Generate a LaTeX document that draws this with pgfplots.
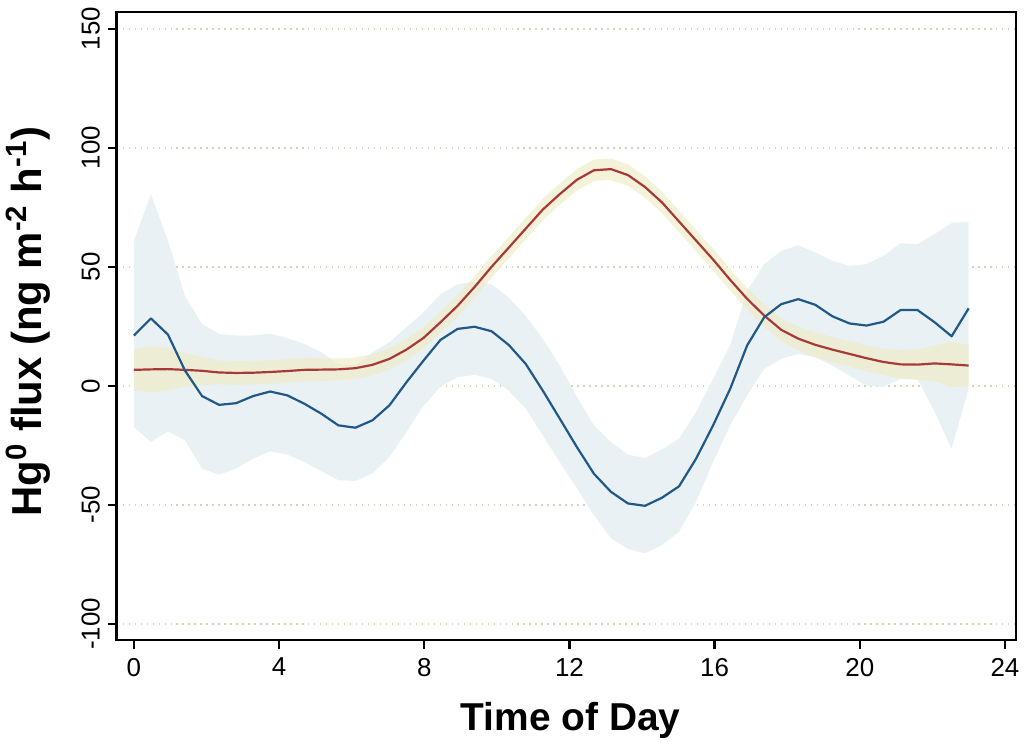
\documentclass[border=0pt]{standalone}
\usepackage{fontspec}
\setmainfont{Liberation Sans}
\usepackage{pgfplots}
\pgfplotsset{compat=1.18}
\usepackage{pgfplotstable}
\usepgfplotslibrary{fillbetween}
\definecolor{bandblue}{RGB}{233,241,245}
\definecolor{bandyel}{RGB}{240,236,200}
\definecolor{lineblue}{RGB}{32,88,135}
\definecolor{linered}{RGB}{168,56,58}
\definecolor{gridc}{RGB}{212,212,188}

\pgfplotstableread{
x       bl     blo    bhi   rl    ylo   yhi
0.0000  21.1  -17.3   60.9  6.7  -1.8  15.2
0.4694  28.3  -23.6   80.4  6.9  -2.9  16.7
0.9388  21.5  -19.1   60.9  7.0  -2.0  16.0
1.4082   6.4  -22.9   37.8  6.7  -0.3  13.7
1.8776  -4.3  -34.8   26.0  6.3   0.3  12.3
2.3469  -8.0  -37.3   21.8  5.6   0.6  10.6
2.8163  -7.3  -34.8   21.1  5.4   0.4  10.4
3.2857  -4.3  -30.6   21.1  5.5   0.5  10.5
3.7551  -2.4  -27.5   22.0  5.8   0.8  10.8
4.2245  -4.0  -28.9   20.0  6.2   1.2  11.2
4.6939  -7.5  -32.0   17.6  6.7   1.7  11.7
5.1633 -11.7  -35.9   14.1  6.8   2.0  11.6
5.6327 -16.6  -39.6    9.2  6.9   2.3  11.5
6.1020 -17.6  -40.0    8.5  7.4   2.9  11.9
6.5714 -14.5  -36.8   14.0  8.8   4.3  13.3
7.0408  -8.2  -29.9   18.3 11.3   6.8  15.8
7.5102   1.5  -19.4   24.6 15.2  10.7  19.7
7.9796  10.6   -8.5   30.9 20.1  15.6  24.6
8.4490  19.3   -0.3   38.5 26.7  22.2  31.2
8.9184  23.9    3.6   42.7 33.6  29.1  38.1
9.3878  24.8    4.6   43.7 41.5  37.0  46.0
9.8571  22.9    2.9   42.7 50.0  45.5  54.5
10.3265 17.2   -2.0   37.1 58.0  53.5  62.5
10.7959  9.2   -9.6   29.4 66.0  61.5  70.5
11.2653 -2.0  -20.8   19.7 74.0  69.5  78.5
11.7347 -13.8 -32.0    8.5 80.5  76.0  85.0
12.2041 -25.7 -43.0   -4.5 86.5  82.0  91.0
12.6735 -36.9 -54.3  -16.6 90.5  86.0  95.0
13.1429 -44.5 -64.0  -23.6 91.0  86.5  95.5
13.6122 -49.4 -68.5  -28.9 88.5  84.0  93.0
14.0816 -50.4 -70.4  -30.3 83.5  79.0  88.0
14.5510 -47.0 -66.9  -26.7 77.0  72.5  81.5
15.0204 -42.2 -61.3  -22.2 69.0  64.5  73.5
15.4898 -30.6 -48.7  -11.0 61.0  56.5  65.5
15.9592 -16.6 -32.0    2.9 53.0  48.5  57.5
16.4286  -1.3 -16.6   17.0 44.5  40.0  49.0
16.8980  17.0  -4.0   40.0 36.5  32.0  41.0
17.3673  28.8   7.1   51.1 29.5  24.8  34.2
17.8367  34.3  11.3   56.7 23.5  18.7  28.3
18.3061  36.4  13.4   59.0 19.8  14.8  24.8
18.7755  34.0  12.0   56.0 17.2  12.0  22.4
19.2449  29.2   8.5   52.5 15.2   9.9  20.5
19.7143  26.2   4.3   50.4 13.4   8.0  18.8
20.1837  25.3   0.1   51.1 11.6   6.1  17.1
20.6531  26.9  -0.5   54.6 10.0   4.4  15.6
21.1224  31.8   2.9   59.9  9.0   3.0  15.0
21.5918  31.8   2.9   59.5  8.9   2.4  15.4
22.0612  26.7 -11.0   63.7  9.4   1.9  16.9
22.5306  20.8 -26.4   68.5  9.0  -0.5  18.5
23.0000  32.5  -1.3   68.8  8.5  -0.2  17.2
}\data

\begin{document}
\begin{tikzpicture}
\begin{axis}[
  at={(0,0)}, anchor=south west,
  scale only axis, width=450.9pt, height=315pt,
  xmin=-0.475, xmax=24.3, ymin=-106.8, ymax=157,
  xtick={0,4,...,24}, ytick={-100,-50,...,150},
  tick pos=left, tick align=outside, major tick length=4.5pt,
  axis line style={line width=1.2pt},
  every tick/.style={black, line width=1.1pt},
  ymajorgrids, grid style={gridc, line width=0.9pt, dash pattern=on 0.7pt off 2.3pt},
  /pgf/number format/assume math mode=true,
  tick label style={font=\fontsize{13}{15}\selectfont},
  yticklabel style={rotate=90, anchor=base, inner sep=0pt},
  yticklabel shift=4pt,
  xticklabel shift=1pt,
  xlabel={Time of Day},
  ylabel={Hg\textsuperscript{0} flux (ng m\textsuperscript{-2} h\textsuperscript{-1})},
  xlabel style={at={(axis description cs:0.505,-0.1444)}, anchor=base, inner sep=0pt, font=\fontsize{19.5}{22}\selectfont\bfseries},
  ylabel style={at={(axis description cs:-0.0832,0.507)}, anchor=base, inner sep=0pt, font=\fontsize{21}{24}\selectfont\bfseries},
]
\addplot[name path=BH, draw=none] table[x=x, y=bhi] {\data};
\addplot[name path=BL, draw=none] table[x=x, y=blo] {\data};
\addplot[bandblue] fill between[of=BH and BL];
\addplot[name path=YH, draw=none] table[x=x, y=yhi] {\data};
\addplot[name path=YL, draw=none] table[x=x, y=ylo] {\data};
\addplot[bandyel, fill opacity=0.7] fill between[of=YH and YL];
\addplot[linered, line width=1.1pt, line join=round] table[x=x, y=rl] {\data};
\addplot[lineblue, line width=1.1pt, line join=round] table[x=x, y=bl] {\data};
\end{axis}
\path (-58.5pt,-53.5pt) rectangle (454.5pt,321pt);
\end{tikzpicture}
\end{document}
